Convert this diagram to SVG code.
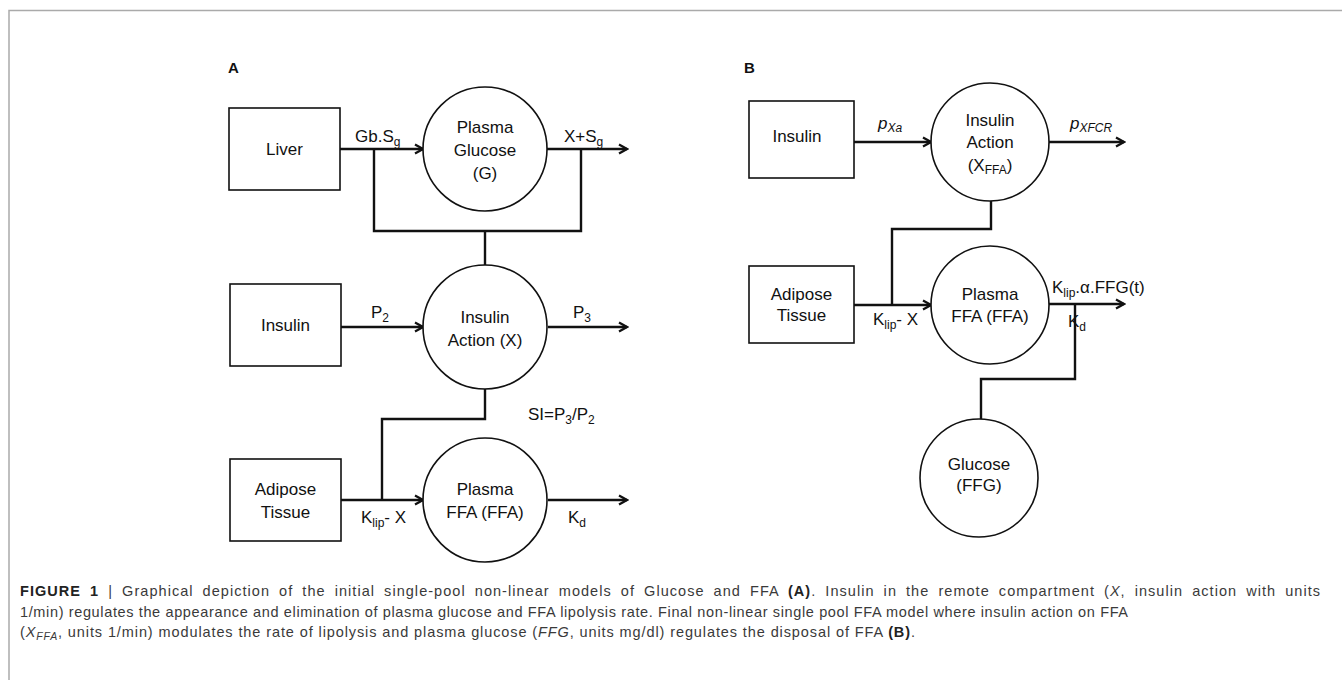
<svg xmlns="http://www.w3.org/2000/svg" width="1342" height="680" viewBox="0 0 1342 680">
<style>
.box{fill:#fff;stroke:#111;stroke-width:1.6}
.circ{fill:#fff;stroke:#111;stroke-width:1.6}
.con{fill:none;stroke:#111;stroke-width:2.4}
.t{font-family:"Liberation Sans",Arial,sans-serif;font-size:17px;fill:#111}
.c{text-anchor:middle}
.s{font-size:12px}
.pan{font-family:"Liberation Sans",Arial,sans-serif;font-size:15px;font-weight:bold;fill:#111}
.cap{font-family:"Liberation Sans",Arial,sans-serif;font-size:14.5px;fill:#3a3a3a}
</style>
<defs>
<marker id="arr" markerWidth="12" markerHeight="12" refX="10" refY="6" orient="auto" markerUnits="userSpaceOnUse">
<path d="M2,1.5 L10,6 L2,10.5" fill="none" stroke="#111" stroke-width="2.2"/>
</marker>
</defs>
<rect width="1342" height="680" fill="#fff"/>
<path d="M9,680 V10.5 H1342" fill="none" stroke="#aaa" stroke-width="1.5"/>

<text class="pan" x="228" y="73">A</text>
<text class="pan" x="744" y="73">B</text>

<g id="connectors">
<path class="con" d="M340,149 H423" marker-end="url(#arr)"/>
<path class="con" d="M547,149 H627" marker-end="url(#arr)"/>
<path class="con" d="M374,149 V231 H581 V149"/>
<path class="con" d="M485,231 V265"/>
<path class="con" d="M341,327 H423" marker-end="url(#arr)"/>
<path class="con" d="M548,327 H627" marker-end="url(#arr)"/>
<path class="con" d="M485,389 V419 H382 V500"/>
<path class="con" d="M341,500 H423" marker-end="url(#arr)"/>
<path class="con" d="M548,500 H627" marker-end="url(#arr)"/>

<path class="con" d="M854,142 H931" marker-end="url(#arr)"/>
<path class="con" d="M1049,142 H1124" marker-end="url(#arr)"/>
<path class="con" d="M991,201 V229 H892 V305"/>
<path class="con" d="M854,305 H931" marker-end="url(#arr)"/>
<path class="con" d="M1049,304 H1124" marker-end="url(#arr)"/>
<path class="con" d="M1075,304 V379 H981 V419"/>
</g>

<g id="labels">
<text class="t" x="355" y="142">Gb.S<tspan class="s" dy="4">g</tspan></text>
<text class="t" x="564" y="142">X+S<tspan class="s" dy="4">g</tspan></text>
<text class="t" x="371" y="318">P<tspan class="s" dy="4">2</tspan></text>
<text class="t" x="573" y="318">P<tspan class="s" dy="4">3</tspan></text>
<text class="t" x="528" y="420">SI=P<tspan class="s" dy="4">3</tspan><tspan dy="-4">/P</tspan><tspan class="s" dy="4">2</tspan></text>
<text class="t" x="361" y="523">K<tspan class="s" dy="4">lip</tspan><tspan dy="-4">- X</tspan></text>
<text class="t" x="568" y="523">K<tspan class="s" dy="4">d</tspan></text>

<text class="t" x="878" y="129" font-style="italic" font-size="19">p<tspan class="s" dy="3">Xa</tspan></text>
<text class="t" x="1070" y="129" font-style="italic" font-size="19">p<tspan class="s" dy="3">XFCR</tspan></text>
<text class="t" x="1052" y="293">K<tspan class="s" dy="4">lip</tspan><tspan dy="-4">.α.FFG(t)</tspan></text>
<text class="t" x="873" y="325">K<tspan class="s" dy="4">lip</tspan><tspan dy="-4">- X</tspan></text>
<text class="t" x="1068" y="327">K<tspan class="s" dy="4">d</tspan></text>
</g>

<g id="liver">
<rect class="box" x="229" y="108" width="111" height="82"/>
<text class="t c" x="284.5" y="155">Liver</text>
</g>
<g id="plasma-glucose">
<circle class="circ" cx="485" cy="149" r="62"/>
<text class="t c" x="485" y="133">Plasma</text>
<text class="t c" x="485" y="156">Glucose</text>
<text class="t c" x="485" y="179">(G)</text>
</g>
<g id="insulin-a">
<rect class="box" x="230" y="284" width="111" height="82"/>
<text class="t c" x="285.5" y="331">Insulin</text>
</g>
<g id="insulin-action-a">
<circle class="circ" cx="485" cy="327" r="62"/>
<text class="t c" x="485" y="323">Insulin</text>
<text class="t c" x="485" y="346">Action (X)</text>
</g>
<g id="adipose-a">
<rect class="box" x="230" y="459" width="111" height="82"/>
<text class="t c" x="285.5" y="495">Adipose</text>
<text class="t c" x="285.5" y="518">Tissue</text>
</g>
<g id="plasma-ffa-a">
<circle class="circ" cx="485" cy="500" r="62"/>
<text class="t c" x="485" y="495">Plasma</text>
<text class="t c" x="485" y="518">FFA (FFA)</text>
</g>

<g id="insulin-b">
<rect class="box" x="749" y="101" width="105" height="77"/>
<text class="t c" x="797" y="142">Insulin</text>
</g>
<g id="insulin-action-b">
<circle class="circ" cx="990" cy="142" r="59"/>
<text class="t c" x="990" y="126">Insulin</text>
<text class="t c" x="990" y="148">Action</text>
<text class="t c" x="990" y="171">(X<tspan class="s" dy="3">FFA</tspan><tspan dy="-3">)</tspan></text>
</g>
<g id="adipose-b">
<rect class="box" x="749" y="266" width="105" height="77"/>
<text class="t c" x="801.5" y="300">Adipose</text>
<text class="t c" x="801.5" y="321">Tissue</text>
</g>
<g id="plasma-ffa-b">
<circle class="circ" cx="990" cy="305" r="59"/>
<text class="t c" x="990" y="300">Plasma</text>
<text class="t c" x="990" y="322">FFA (FFA)</text>
</g>
<g id="glucose-b">
<circle class="circ" cx="979" cy="478" r="59"/>
<text class="t c" x="979" y="470">Glucose</text>
<text class="t c" x="979" y="491">(FFG)</text>
</g>

<g id="caption">
<text class="cap" x="20" y="596" word-spacing="4" textLength="1300" lengthAdjust="spacing"><tspan font-weight="bold" fill="#222">FIGURE 1</tspan> | Graphical depiction of the initial single-pool non-linear models of Glucose and FFA <tspan font-weight="bold" fill="#222">(A)</tspan>. Insulin in the remote compartment (<tspan font-style="italic">X</tspan>, insulin action with units</text>
<text class="cap" x="20" y="617" textLength="1108" lengthAdjust="spacing">1/min) regulates the appearance and elimination of plasma glucose and FFA lipolysis rate. Final non-linear single pool FFA model where insulin action on FFA</text>
<text class="cap" x="20" y="637" textLength="895" lengthAdjust="spacing">(<tspan font-style="italic">X<tspan font-size="10.5px" dy="3">FFA</tspan></tspan><tspan dy="-3">, units 1/min) modulates the rate of lipolysis and plasma glucose (</tspan><tspan font-style="italic">FFG</tspan>, units mg/dl) regulates the disposal of FFA <tspan font-weight="bold" fill="#222">(B)</tspan>.</text>
</g>
</svg>
